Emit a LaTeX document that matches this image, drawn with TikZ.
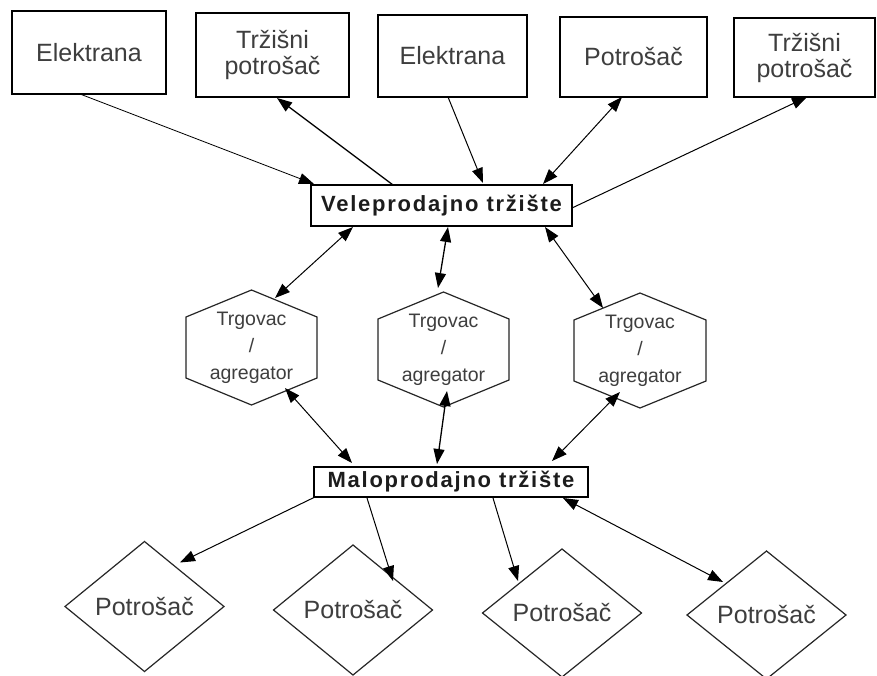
\documentclass[tikz,border=0pt]{standalone}
\usepackage{fontspec}
\setmainfont{Liberation Sans}
\usetikzlibrary{arrows.meta,shapes.geometric,calc}
\definecolor{txt}{RGB}{62,62,62}
\definecolor{btxt}{RGB}{28,28,28}
\newcommand\hexoutline[1]{%
  \draw[hexline] (#1.north) -- ([yshift=-27pt]#1.north east) -- ([yshift=27pt]#1.south east)
    -- (#1.south) -- ([yshift=27pt]#1.south west) -- ([yshift=-27pt]#1.north west) -- cycle;}
\begin{document}
\begin{tikzpicture}[x=1pt,y=-1pt,
  box/.style={draw=black,line width=1.5pt,inner sep=0pt,outer sep=0pt,text=txt,
    font=\fontsize{25}{26}\selectfont,align=center},
  mkt/.style={draw=black,line width=1.5pt,inner sep=0pt,outer sep=0pt,text=btxt,
    font=\fontsize{22}{24}\selectfont\bfseries\addfontfeature{LetterSpace=8}},
  hexnode/.style={inner sep=0pt,outer sep=0pt,minimum width=131pt,minimum height=115pt,
    text=txt,font=\fontsize{19.5}{27}\selectfont,align=center},
  hexline/.style={draw=black!85,line width=1.2pt,line join=miter},
  dia/.style={diamond,draw=black!85,line width=1.2pt,inner sep=0pt,outer sep=0pt,
    minimum width=159pt,minimum height=130pt,text=txt,font=\fontsize{25}{26}\selectfont},
  con/.style={line width=1pt,-{Triangle[length=15pt,width=11pt]}},
  bi/.style={line width=1pt,{Triangle[length=15pt,width=11pt]}-{Triangle[length=15pt,width=11pt]}},
]
\useasboundingbox[fill=white] (0,0) rectangle (877,676);

% top row
\node[box,minimum width=154pt,minimum height=83pt] (e1) at (89,52.5) {Elektrana};
\node[box,minimum width=153pt,minimum height=84pt] (t1) at (272.5,55) {Tržišni\\potrošač};
\node[box,minimum width=149pt,minimum height=82pt] (e2) at (452.5,56) {Elektrana};
\node[box,minimum width=147pt,minimum height=80pt] (p) at (633.5,57) {Potrošač};
\node[box,minimum width=141pt,minimum height=79pt] (t2) at (804.5,57.5) {Tržišni\\potrošač};

% markets
\node[mkt,minimum width=261pt,minimum height=41pt] (vel) at (441.5,205.5) {Veleprodajno tržište};
\node[mkt,minimum width=274pt,minimum height=30pt] (mal) at (451,482) {Maloprodajno tržište};

% traders
\node[hexnode] (h1) at (251.5,347.5) {Trgovac\\/\\agregator};
\node[hexnode] (h2) at (443.5,349.5) {Trgovac\\/\\agregator};
\node[hexnode,minimum width=132pt] (h3) at (640,350.5) {Trgovac\\/\\agregator};
\hexoutline{h1}
\hexoutline{h2}
\hexoutline{h3}

% consumers
\node[dia] (d1) at (144.5,606.5) {Potrošač};
\node[dia] (d2) at (353,610) {Potrošač};
\node[dia,minimum height=128pt] (d3) at (562,613) {Potrošač};
\node[dia,minimum height=128pt] (d4) at (766.5,615) {Potrošač};

% connectors top
\draw[con,line width=0.8pt] ($(e1.south)+(-9,0)$) -- ($(vel.north west)+(3,-1)$);
\draw[con,line width=1.3pt] ($(vel.north)+(-48.5,0)$) -- ($(t1.south)+(4.5,1)$);
\draw[con] ($(e2.south)+(-4.5,0)$) -- ($(vel.north)+(41.5,-2)$);
\draw[bi] ($(p.south)+(-11.5,0)$) -- ($(vel.north)+(101.5,-1)$);
\draw[con] ($(vel.east)+(0,2.5)$) -- ($(t2.south)+(2.5,0)$);

% wholesale - traders
\draw[bi] ($(vel.south)+(-88.5,1)$) -- ($(h1.north)+(23.5,8)$);
\draw[bi,line width=1.3pt] ($(vel.south)+(6.5,1)$) -- ($(h2.north)+(-5.5,-4)$);
\draw[bi] ($(vel.south)+(103.5,1)$) -- ($(h3.north)+(-37,15)$);

% traders - retail
\draw[bi] ($(h1.south)+(33.5,-17)$) -- ($(mal.north west)+(38,-4)$);
\draw[bi,line width=1.3pt] ($(h2.south)+(3.5,-16)$) -- ($(mal.north)+(-14,-3)$);
\draw[bi] ($(h3.south)+(-20,-16)$) -- ($(mal.north)+(101,-6)$);

% retail - consumers
\draw[con] ($(mal.south west)+(1,0)$) -- ($(d1.north)+(35.5,21)$);
\draw[con] ($(mal.south)+(-84,1)$) -- ($(d2.north)+(40,36)$);
\draw[con] ($(mal.south)+(42,1)$) -- ($(d3.north)+(-44,32)$);
\draw[bi] ($(mal.south)+(112,1)$) -- ($(d4.north)+(-43.5,31)$);
\end{tikzpicture}
\end{document}
